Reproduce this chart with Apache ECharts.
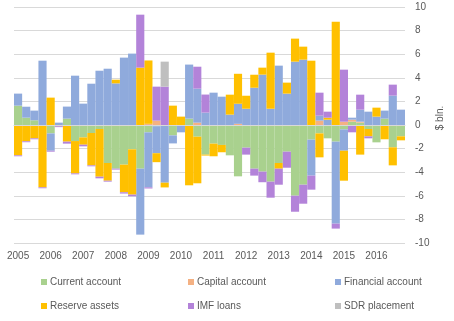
<!DOCTYPE html>
<html>
<head>
<meta charset="utf-8">
<script src="https://cdn.jsdelivr.net/npm/echarts@6/dist/echarts.min.js"></script>
<style>html,body{margin:0;padding:0;background:#fff}#c{width:454px;height:321px}</style>
</head>
<body>
<div id="c"></div>
<script>
const years = ['2005','2006','2007','2008','2009','2010','2011','2012','2013','2014','2015','2016'];
const quarterNames = ['Q1','Q2','Q3','Q4'];
const categories = [];
years.forEach(y => quarterNames.forEach(q => categories.push(y + ' ' + q)));

const currentAccount = [1.64,0.62,0.4,0, -0.71,0,0.54,-1.36, -1.05,-0.68,-0.34,-3.22, -3.7,-3.36,-2.06,-3.7,
  -0.62,-0.1,0,-0.88, 0,0.54,-0.99,-2.51, -1.58,-1.69,-2.57,-4.35, -1.92,-3.7,-3.95,-4.8,
  -3.22,-2.26,-5.99,-5.06, -1.24,-0.71,-1.13,-1.41, -0.37,0.28,0.2,-0.34, -1.47,0.54,-1.89,-0.96];
const capitalAccount = [0,0,0,0, 0,0,0,0, 0,0,0,0, 0,0,0,0,
  0.1,0.37,0,0, 0,0,0.2,0, 0,0,0,0.1, 0,0,0,0,
  0,0,0,0, 0,0.37,0,0, 0.28,0.17,0.08,0, 0,0,0,0];
const financialAccount = [1.02,0.93,0.82,5.45, -1.47,0.2,1.02,4.18, 1.81,3.5,4.6,4.77, 3.53,5.71,6.05,-5.59,
  -4.66,-2.29,-4.89,-0.68, -0.62,4.58,2.88,1.05, 2.74,2.4,0.88,1.7, 1.38,3.16,4.27,1.38,
  5.03,2.66,5.37,5.54, -3.05,0.42,0.45,-6.95, -1.81,0.17,1.02,1.13, 0.71,0.68,2.49,1.3];
const reserveAssets = [-2.57,-1.38,-1.13,-5.28, 2.32,-0.1,-1.41,-2.74, -0.62,-2.74,-4.04,-1.5, 0.31,-2.34,-3.84,4.86,
  5.37,-0.76,-0.4,1.64, 0.71,-5.11,-3.95,-0.08, -1.07,-0.62,1.69,2.54, 1.1,1.1,0.59,4.75,
  -0.48,0.93,1.95,1.1, 5.45,-2.03,0.17,8.76, -2.54,0,-2.51,-0.62, 0.76,-1.21,-1.53,-0.34];
const imfLoans = [-0.08,-0.08,-0.08,-0.08, -0.08,-0.08,-0.17,-0.08, -0.14,-0.08,-0.14,-0.08, -0.08,-0.11,-0.14,4.49,
  -0.1,2.88,3.25,0, 0,0,1.86,1.53, 0,0,0,0, -0.59,-0.59,-0.9,-1.36,
  -1.36,-1.36,-1.36,-1.61, -1.19,1.95,0.51,-0.42, 4.41,-0.62,1.27,-0.17, 0,0,0.93,0];
const sdrPlacement = [0,0,0,0, 0,0,0,0, 0,0,0,0, 0,0,0,0,
  0,0,2.12,0, 0,0,0,0, 0,0,0,0, 0,0,0,0,
  0,0,0,0, 0,0,0,0, 0,0,0,0, 0,0,0,0];
const yTicks = [-10,-8,-6,-4,-2,0,2,4,6,8,10];

const seriesDefs = [
  ['Current account', currentAccount, '#A9D18E'],
  ['Capital account', capitalAccount, '#F4B183'],
  ['Financial account', financialAccount, '#8FAADC'],
  ['Reserve assets', reserveAssets, '#FFC000'],
  ['IMF loans', imfLoans, '#B383D9'],
  ['SDR placement', sdrPlacement, '#BFBFBF']
];
const FONT = 'Liberation Sans';
const TXT = '#595959';

const legendPos = [[41,277],[188,277],[335,277],[41,301],[188,301],[335,301]];

const chart = echarts.init(document.getElementById('c'), null, {renderer:'canvas'});
chart.setOption({
  animation: false,
  textStyle: {fontFamily: FONT},
  grid: {left: 14, right: 49, top: 7, height: 236, containLabel: false},
  legend: seriesDefs.map((s, i) => ({
    data: [s[0]], left: legendPos[i][0], top: legendPos[i][1], padding: 0,
    itemWidth: 6, itemHeight: 6, icon: 'rect', selectedMode: false,
    textStyle: {color: TXT, fontSize: 10, fontFamily: FONT, padding: [0,0,0,-2]}
  })),
  xAxis: [{
    type: 'category', data: categories, boundaryGap: true,
    axisLine: {show: false, onZero: false}, axisTick: {show: false},
    axisLabel: {interval: 3, color: TXT, fontSize: 10, fontFamily: FONT, margin: 8,
      formatter: v => v.split(' ')[0]},
    splitLine: {show: false}
  }, {
    type: 'category', data: categories, position: 'bottom', z: 10,
    axisLine: {show: true, onZero: true, lineStyle: {color: '#D9D9D9', width: 1}},
    axisTick: {show: false}, axisLabel: {show: false}, splitLine: {show: false}
  }],
  yAxis: {
    type: 'value', position: 'right', min: yTicks[0], max: yTicks[yTicks.length-1], interval: 2,
    axisLine: {show: false}, axisTick: {show: false},
    axisLabel: {color: TXT, fontSize: 10, fontFamily: FONT, margin: 10},
    splitLine: {lineStyle: {color: '#D9D9D9', width: 1}}
  },
  graphic: [{
    type: 'text', x: 440, y: 118, rotation: Math.PI/2,
    style: {text: '$ bln.', fill: TXT, font: '10px ' + FONT, textAlign: 'center', textVerticalAlign: 'middle'}
  }],
  series: seriesDefs.map(s => ({
    name: s[0], type: 'bar', stack: 'total', stackStrategy: 'samesign',
    data: s[1], barWidth: '100%', barCategoryGap: '0%',
    itemStyle: {color: s[2]}, emphasis: {disabled: true}
  }))
});
</script>
</body>
</html>
